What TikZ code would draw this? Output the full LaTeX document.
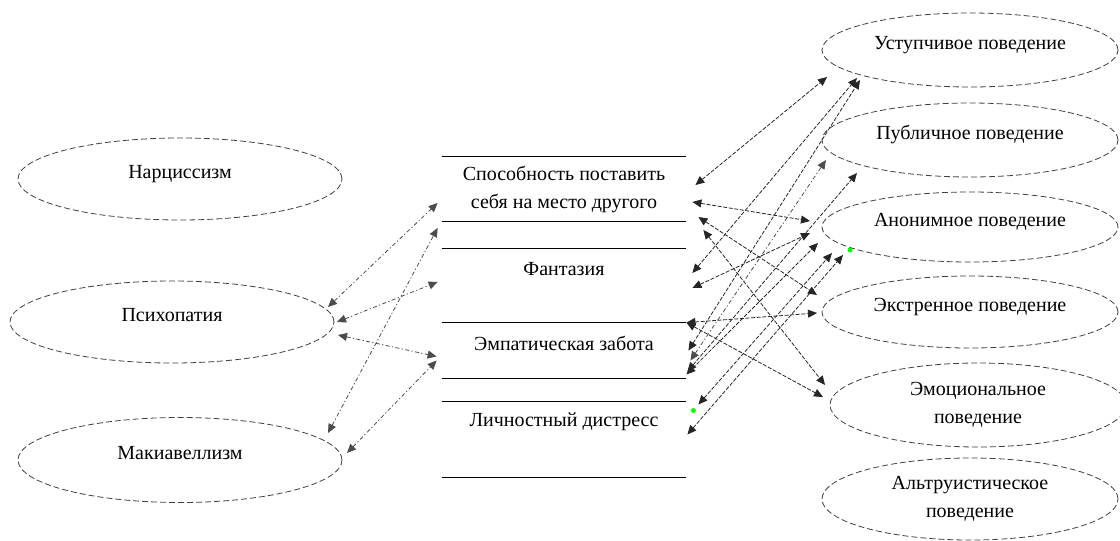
\documentclass[tikz,border=0pt]{standalone}
\usepackage{fontspec}
\setmainfont{Liberation Serif}
\usetikzlibrary{shapes, positioning, calc, arrows.meta}

\begin{document}
\begin{tikzpicture}[x=0.5pt, y=-0.5pt,
        font=\fontsize{10}{14}\selectfont,
        trait/.style={ellipse, draw=black!75, thin, dash pattern=on 3pt off 1.5pt, minimum width=162pt, minimum height=41pt, inner sep=0pt, oneline},
        act/.style={ellipse, draw=black!75, thin, dash pattern=on 3pt off 1.5pt, minimum width=148pt, minimum height=37pt, inner sep=0pt, align=center},
        oneline/.style={text height=7pt, text depth=8pt},
        store/.style={minimum width=122pt, inner sep=0pt, align=center},
        link/.style={{Triangle[length=4.5pt,width=4pt]}-{Triangle[length=4.5pt,width=4pt]}, black!85, dash pattern=on 2pt off 0.8pt},
        weak/.style={link, black!70, dash pattern=on 2pt off 1.2pt on 0.6pt off 1.2pt}]
    \useasboundingbox (0,0) rectangle (1120,541);

    \node[trait] (narc) at (180,179) {Нарциссизм};
    \node[trait] (psych) at (172,322) {Психопатия};
    \node[trait, minimum height=42.5pt] (mach) at (180,460) {Макиавеллизм};

    \node[store, minimum height=32pt] (persp) at (564,189) {Способность поставить\\себя на место другого};
    \node[store, minimum height=37pt, text height=7pt, text depth=18pt] (fant) at (564,286) {Фантазия};
    \node[store, minimum height=27.5pt, text height=7pt, text depth=7pt] (care) at (564,350.5) {Эмпатическая забота};
    \node[store, minimum height=37.5pt, text height=7pt, text depth=20pt] (distress) at (564,439.5) {Личностный дистресс};

    \node[act, oneline] (compl) at (970,50) {Уступчивое поведение};
    \node[act, oneline] (publ) at (970,140) {Публичное поведение};
    \node[act, oneline, minimum height=35pt] (anon) at (970,227) {Анонимное поведение};
    \node[act, oneline, minimum height=36pt] (emerg) at (970,312) {Экстренное поведение};
    \node[act, minimum height=42pt] (emot) at (978,405) {Эмоциональное\\поведение};
    \node[act, minimum height=41pt] (altr) at (970,499) {Альтруистическое\\поведение};

    \foreach \b in {persp, care, distress}
        \draw[line width=0.75pt] (\b.north west) -- (\b.north east) (\b.south west) -- (\b.south east);
    \draw[line width=0.75pt] (fant.north west) -- (fant.north east);

    \draw[weak] ($(psych)+(156,-15)$) -- ($(persp.west)+(-4,14)$);
    \draw[weak] ($(mach)+(148,-27)$) -- ($(persp.west)+(-4,39)$);
    \draw[weak] ($(psych)+(165,0)$) -- ($(fant.west)+(-4,-4)$);
    \draw[weak] ($(psych)+(166,13)$) -- ($(care.west)+(-5,6)$);
    \draw[weak] ($(mach)+(167,-7)$) -- ($(care.west)+(-5,10)$);

    \draw[link] ($(persp.east)+(9,-4)$) -- ($(compl)+(-143,27)$);
    \draw[link] ($(persp.east)+(6,13)$) -- ($(anon)+(-160,-6)$);
    \draw[link] ($(persp.east)+(12,28)$) -- ($(emerg)+(-153,-17)$);
    \draw[link] ($(persp.east)+(17,41)$) -- ($(emot)+(-153,-20)$);
    \draw[link] ($(fant.east)+(6,-13)$) -- ($(compl)+(-113,28)$);
    \draw[link] ($(fant.east)+(6,2)$) -- ($(anon)+(-160,6)$);
    \draw[link] (care.north east) -- ($(emerg)+(-153,1)$);
    \draw[link] (care.north east) -- ($(emot)+(-155,-8)$);
    \draw[link] ($(care.east)+(2,0)$) -- ($(compl)+(-110,30)$);
    \draw[weak] ($(care.east)+(4,10)$) -- ($(publ)+(-144,20)$);
    \draw[link] ($(care.east)+(1,21)$) -- ($(publ)+(-113,33)$);
    \draw[link] ($(care.east)+(0,24)$) -- ($(anon)+(-152,16)$);
    \draw[link] ($(distress.east)+(12,-35)$) -- ($(anon)+(-138,26)$);
    \draw[link] ($(distress.east)+(1,-5)$) -- ($(anon)+(-127,28)$);

    \fill[green] ($(anon)+(-120,23)$) circle (2.5);
    \fill[green] ($(distress.east)+(7,-29)$) circle (2.5);
\end{tikzpicture}
\end{document}
